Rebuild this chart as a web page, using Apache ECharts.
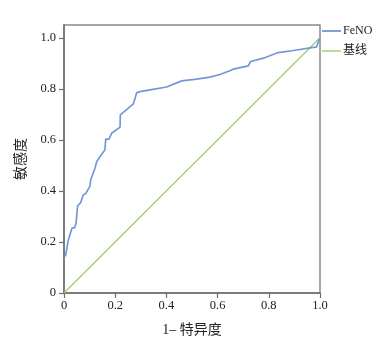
<!DOCTYPE html>
<html>
<head>
<meta charset="utf-8">
<script src="https://cdn.jsdelivr.net/npm/echarts@6/dist/echarts.min.js"></script>
<style>html,body{margin:0;padding:0;background:#fff;}#c{width:378px;height:347px;}</style>
</head>
<body>
<div id="c"></div>
<script>
const seriesNames = ['FeNO', '基线'];
const fenoX = [0, 0.007, 0.010, 0.017, 0.023, 0.031, 0.042, 0.047, 0.053, 0.065, 0.075, 0.086, 0.102, 0.104, 0.121, 0.128, 0.141, 0.160, 0.163, 0.176, 0.186, 0.219, 0.220, 0.271, 0.284, 0.297, 0.336, 0.401, 0.460, 0.518, 0.570, 0.609, 0.648, 0.661, 0.720, 0.729, 0.779, 0.837, 0.896, 0.987, 0.994, 1.0];
const fenoY = [0.14, 0.149, 0.169, 0.208, 0.214, 0.254, 0.256, 0.273, 0.341, 0.354, 0.384, 0.391, 0.420, 0.443, 0.489, 0.515, 0.535, 0.561, 0.603, 0.603, 0.626, 0.650, 0.698, 0.741, 0.785, 0.789, 0.796, 0.807, 0.831, 0.838, 0.846, 0.856, 0.871, 0.877, 0.890, 0.907, 0.920, 0.942, 0.950, 0.964, 0.986, 1.0];
const baseX = [0, 1];
const baseY = [0, 1];
const tickValues = [0, 0.2, 0.4, 0.6, 0.8, 1.0];
const xName = '1– 特异度';
const yName = '敏感度';

const font = "'Liberation Serif','Noto Sans CJK SC',serif";
const fmt = v => (v === 0 ? '0' : v.toFixed(1));
const chart = echarts.init(document.getElementById('c'), null, {renderer: 'canvas'});
chart.setOption({
  animation: false,
  grid: {left: 64, right: 58, top: 25, bottom: 54, show: true, borderColor: '#8a8a8a', borderWidth: 1.5, backgroundColor: 'transparent'},
  legend: {
    orient: 'vertical', left: 317, top: 20, itemGap: 8, itemWidth: 19, itemHeight: 1.2, icon: 'rect',
    textStyle: {fontFamily: font, fontSize: 12, color: '#222', padding: [0, 0, 0, -3]},
    data: [
      {name: seriesNames[0], itemStyle: {color: '#2f62b5'}},
      {name: seriesNames[1], itemStyle: {color: '#8dc653'}}
    ]
  },
  xAxis: {
    type: 'value', min: 0, max: 1, interval: 0.2,
    name: xName, nameLocation: 'middle', nameGap: 30,
    nameTextStyle: {fontFamily: font, fontSize: 14, color: '#222'},
    axisLine: {show: true, lineStyle: {color: '#6e6e6e', width: 1.5}},
    axisTick: {show: true, length: 5, lineStyle: {color: '#6e6e6e', width: 1.2}},
    axisLabel: {formatter: fmt, fontFamily: font, fontSize: 12.5, color: '#222', margin: 6},
    splitLine: {show: false}
  },
  yAxis: {
    type: 'value', min: 0, max: 1.05,
    name: yName, nameLocation: 'middle', nameGap: 36, nameRotate: 90,
    nameTextStyle: {fontFamily: font, fontSize: 14, color: '#222'},
    axisLine: {show: true, lineStyle: {color: '#6e6e6e', width: 1.5}},
    axisTick: {show: true, length: 5, customValues: tickValues, lineStyle: {color: '#6e6e6e', width: 1.2}},
    axisLabel: {customValues: tickValues, formatter: fmt, fontFamily: font, fontSize: 12.5, color: '#222', margin: 8},
    splitLine: {show: false}
  },
  series: [
    {name: seriesNames[0], type: 'line', symbol: 'none', data: fenoX.map((x, i) => [x, fenoY[i]]),
     lineStyle: {color: '#7398d8', width: 1.7}, itemStyle: {color: '#7398d8'}, z: 3},
    {name: seriesNames[1], type: 'line', symbol: 'none', data: baseX.map((x, i) => [x, baseY[i]]),
     lineStyle: {color: '#9fcf72', width: 1.3}, itemStyle: {color: '#9fcf72'}, z: 2}
  ]
});
</script>
</body>
</html>
